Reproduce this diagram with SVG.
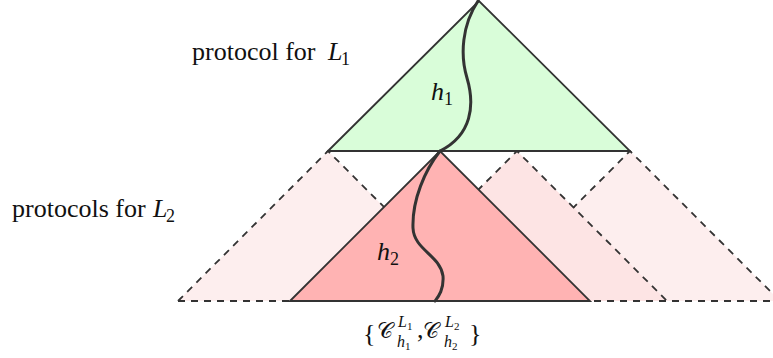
<svg xmlns="http://www.w3.org/2000/svg" width="773" height="358" viewBox="0 0 773 358">
<style>
.tri{stroke:#333;stroke-width:1.8;stroke-linejoin:miter}
.dash{stroke:#333;stroke-width:1.8;stroke-dasharray:7 6}
.lbl{font-family:"Liberation Serif","Times New Roman",serif;font-size:26px;fill:#111}
.m{font-style:italic}
.s{font-size:18px}
.ss{font-size:16px}
.sss{font-size:11px}
.cal{font-size:22px}
.curve{fill:none;stroke:#333;stroke-width:3;stroke-linecap:round}
</style>
<rect width="773" height="358" fill="#fff"/>
<g id="l2-protocol-right">
<path class="dash" d="M480,301 L630,151 L780,301" fill="#fdeeee"/>
</g>
<g id="l2-protocol-mid">
<path class="dash" d="M367,301 L517,151 L667,301" fill="#fde4e4"/>
</g>
<g id="l2-protocol-left">
<path class="dash" d="M178,301 L328,151 L478,301" fill="#fdeeee"/>
</g>
<g id="base-line">
<path class="dash" d="M178,301 L773,301" fill="none"/>
</g>
<g id="l2-protocol-h2">
<path class="tri" d="M290,301 L440,151 L590,301 Z" fill="#ffb3b3"/>
</g>
<g id="l1-protocol">
<path class="tri" d="M328,151 L479,1 L630,151 Z" fill="#d9fdd9"/>
</g>
<g id="connectors">
<path class="curve" d="M478,1 C462,25 460,55 467,78 C475,105 472,135 440,151"/>
<path class="curve" d="M440,151 C425,170 412,200 413,228 C414,250 440,255 443,276 C444,290 438,297 435,301"/>
</g>
<g id="label-l1">
<text class="lbl" x="192" y="60">protocol for</text>
<text class="lbl m" x="328" y="60">L</text>
<text class="lbl s" x="341" y="65">1</text>
</g>
<g id="label-l2">
<text class="lbl" x="12" y="217">protocols for</text>
<text class="lbl m" x="153" y="217">L</text>
<text class="lbl s" x="166" y="222">2</text>
</g>
<g id="label-h1">
<text class="lbl m" x="431" y="100">h</text>
<text class="lbl s" x="444" y="105">1</text>
</g>
<g id="label-h2">
<text class="lbl m" x="377" y="260">h</text>
<text class="lbl s" x="390" y="265">2</text>
</g>
<g id="label-bottom">
<text class="lbl" x="363" y="342">{</text>
<text class="lbl cal" x="377" y="338">𝒞</text>
<text class="lbl ss m" x="398" y="327">L</text>
<text class="lbl sss" x="407" y="330">1</text>
<text class="lbl ss m" x="397" y="347">h</text>
<text class="lbl sss" x="405" y="350">1</text>
<text class="lbl" x="417" y="338">,</text>
<text class="lbl cal" x="423" y="338">𝒞</text>
<text class="lbl ss m" x="445" y="327">L</text>
<text class="lbl sss" x="454" y="330">2</text>
<text class="lbl ss m" x="444" y="347">h</text>
<text class="lbl sss" x="452" y="350">2</text>
<text class="lbl" x="469" y="342">}</text>
</g>
</svg>
